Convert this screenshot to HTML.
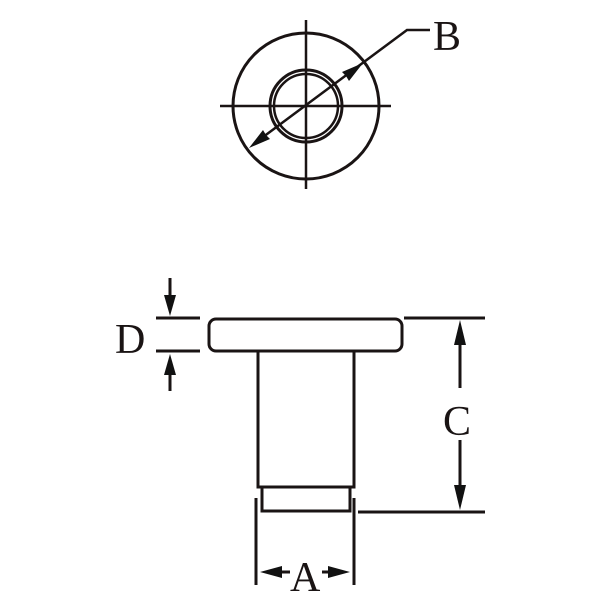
<!DOCTYPE html>
<html><head><meta charset="utf-8"><style>html,body{margin:0;padding:0;background:#fff}svg{display:block}
.t{font-family:"Liberation Serif","DejaVu Serif",serif;font-size:42px;fill:#1a1414}</style></head>
<body>
<svg width="600" height="600" viewBox="0 0 600 600" xmlns="http://www.w3.org/2000/svg">
<g stroke="#1a1414" fill="none">
<circle cx="306" cy="106" r="73" stroke-width="3"/>
<circle cx="306" cy="106" r="36" stroke-width="3"/>
<circle cx="306" cy="106" r="32" stroke-width="2.5"/>
<line x1="220" y1="106" x2="391" y2="106" stroke-width="2.5"/>
<line x1="306" y1="20" x2="306" y2="189" stroke-width="2.5"/>
<path d="M255,143 L407,30 L430,30" stroke-width="2.5"/>
</g>
<g fill="#111">
<path d="M249,148 L270,139 L266,135 L263,130 z"/>
<path d="M363,63 L342,72 L346,76 L349,81 z"/>
</g>
<text class="t" x="433" y="50">B</text>

<g stroke="#1a1414" fill="none" stroke-width="3">
<rect x="209" y="319" width="193" height="32" rx="7"/>
<path d="M258,352 V487 H354 V352"/>
<path d="M262,488 V511 H350 V488"/>
<line x1="156" y1="318" x2="200" y2="318"/>
<line x1="156" y1="351" x2="200" y2="351"/>
<line x1="404" y1="318" x2="485" y2="318"/>
<line x1="358" y1="512" x2="485" y2="512"/>
<line x1="256" y1="498" x2="256" y2="585"/>
<line x1="354" y1="498" x2="354" y2="585"/>
<line x1="460" y1="330" x2="460" y2="388"/>
<line x1="460" y1="440" x2="460" y2="500"/>
<line x1="170" y1="278" x2="170" y2="305"/>
<line x1="170" y1="365" x2="170" y2="391"/>
<line x1="272" y1="572" x2="290" y2="572"/>
<line x1="322" y1="572" x2="340" y2="572"/>
</g>
<g fill="#111">
<path d="M460,320 L454,345 L466,345 z"/>
<path d="M460,510 L454,485 L466,485 z"/>
<path d="M170,316 L164,295 L176,295 z"/>
<path d="M170,354 L164,375 L176,375 z"/>
<path d="M260,572 L282,566 L282,578 z"/>
<path d="M350,572 L328,566 L328,578 z"/>
</g>
<text class="t" x="115" y="353">D</text>
<text class="t" x="443" y="435">C</text>
<text class="t" x="290" y="591">A</text>
</svg>
</body></html>
